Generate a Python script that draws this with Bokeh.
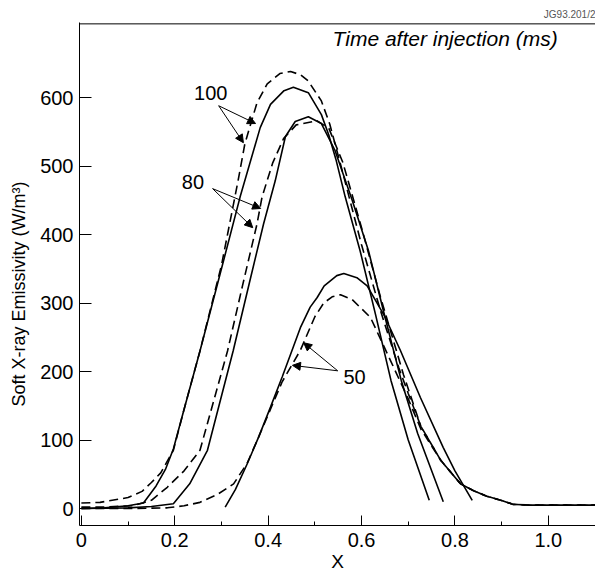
from bokeh.plotting import figure
from bokeh.models import FixedTicker, Label, Arrow, NormalHead, Span, Range1d, Title
from bokeh.embed import file_html
from bokeh.resources import INLINE

# ---- data ----
x100_solid = [0.0, 0.05, 0.10, 0.133, 0.16, 0.18, 0.197, 0.22, 0.254, 0.30, 0.34, 0.383, 0.405, 0.434, 0.454, 0.486, 0.514, 0.53, 0.545, 0.565, 0.597, 0.63, 0.663, 0.70, 0.745]
y100_solid = [0, 1, 4, 8, 33, 57, 87, 145, 230, 350, 455, 556, 590, 610, 615, 607, 575, 545, 510, 455, 376, 283, 187, 100, 12]

x100_dash = [0.0, 0.04, 0.10, 0.13, 0.15, 0.17, 0.197, 0.22, 0.254, 0.30, 0.336, 0.35, 0.362, 0.376, 0.398, 0.425, 0.448, 0.47, 0.486, 0.514, 0.532, 0.561, 0.60, 0.64, 0.68, 0.70, 0.727, 0.77, 0.812, 0.84, 0.868, 0.898, 0.925, 0.96, 1.0, 1.101]
y100_dash = [8, 9, 16, 25, 38, 52, 85, 145, 230, 355, 480, 532, 560, 592, 620, 635, 638, 633, 624, 595, 561, 487, 385, 290, 205, 168, 120, 70, 36, 26, 18, 12, 6, 5, 5, 5]

x80_solid = [0.0, 0.10, 0.15, 0.197, 0.232, 0.27, 0.325, 0.36, 0.39, 0.415, 0.437, 0.458, 0.486, 0.514, 0.543, 0.58, 0.615, 0.65, 0.685, 0.72, 0.775]
y80_solid = [0, 1, 3, 7, 36, 85, 230, 330, 415, 478, 543, 565, 572, 562, 523, 450, 376, 280, 187, 110, 10]

x80_dash = [0.0, 0.04, 0.111, 0.15, 0.184, 0.22, 0.254, 0.313, 0.345, 0.376, 0.387, 0.41, 0.433, 0.46, 0.505, 0.53, 0.56, 0.60, 0.64, 0.69, 0.727, 0.77, 0.812, 0.84, 0.868, 0.898, 0.925, 0.96, 1.0, 1.101]
y80_dash = [2, 2, 4, 12, 31, 55, 85, 230, 325, 415, 455, 505, 540, 560, 566, 555, 505, 410, 310, 195, 120, 70, 36, 26, 18, 12, 6, 5, 5, 5]

x50_solid = [0.308, 0.33, 0.355, 0.38, 0.405, 0.43, 0.455, 0.469, 0.49, 0.505, 0.52, 0.547, 0.562, 0.59, 0.612, 0.65, 0.683, 0.726, 0.775, 0.80, 0.837]
y50_solid = [2, 28, 65, 105, 148, 192, 238, 264, 294, 308, 325, 340, 343, 337, 325, 280, 231, 162, 89, 55, 12]

x50_dash = [0.0, 0.10, 0.184, 0.22, 0.254, 0.29, 0.326, 0.355, 0.38, 0.405, 0.43, 0.469, 0.50, 0.519, 0.537, 0.555, 0.58, 0.619, 0.662, 0.70, 0.727, 0.77, 0.812, 0.84, 0.868, 0.898, 0.925, 0.96, 1.0, 1.101]
y50_dash = [0, 0, 1, 4, 9, 20, 36, 66, 105, 145, 185, 231, 280, 300, 309, 312, 305, 279, 216, 160, 116, 70, 36, 26, 18, 12, 6, 5, 5, 5]

x_ticks = [0.0, 0.2, 0.4, 0.6, 0.8, 1.0]
x_tick_labels = ["0", "0.2", "0.4", "0.6", "0.8", "1.0"]
x_minor = [0.1, 0.3, 0.5, 0.7, 0.9]
y_ticks = [0, 100, 200, 300, 400, 500, 600]

series_labels = ["100", "80", "50"]
label_pos = [(0.277, 607), (0.239, 477), (0.585, 192)]
arrows = [
    [(0.294, 588, 0.373, 562), (0.294, 588, 0.347, 534)],
    [(0.281, 467, 0.384, 438), (0.281, 467, 0.367, 410)],
    [(0.549, 201, 0.476, 242), (0.549, 201, 0.452, 209)],
]

FONT = "Liberation Sans"

p = figure(width=595, height=578, output_backend="svg", toolbar_location=None,
           x_range=Range1d(-0.004, 1.101), y_range=Range1d(-24.8, 709.5),
           min_border_left=79, min_border_right=0, min_border_top=22, min_border_bottom=53,
           background_fill_color="white", border_fill_color="white")
p.outline_line_color = None
p.xgrid.visible = False
p.ygrid.visible = False

t = Title(text="JG93.201/2", align="right", text_font=FONT, text_font_size="10px",
          text_color="#555555", text_font_style="normal", standoff=5, offset=0)
p.add_layout(t, "above")

LW = 1.6
DASH = "9 5"
p.line(x100_solid, y100_solid, line_color="black", line_width=LW)
p.line(x100_dash, y100_dash, line_color="black", line_width=LW, line_dash=DASH)
p.line(x80_solid, y80_solid, line_color="black", line_width=LW)
p.line(x80_dash, y80_dash, line_color="black", line_width=LW, line_dash=DASH)
p.line(x50_solid, y50_solid, line_color="black", line_width=LW)
p.line(x50_dash, y50_dash, line_color="black", line_width=LW, line_dash=DASH)

# axes
xa = p.xaxis[0]
xa.ticker = FixedTicker(ticks=x_ticks, minor_ticks=x_minor)
xa.major_label_overrides = {tk: s for tk, s in zip(x_ticks, x_tick_labels)}
xa.major_tick_in = 10
xa.major_tick_out = 0
xa.minor_tick_in = 4
xa.minor_tick_out = 0
xa.major_label_standoff = 7
xa.major_label_text_font = FONT
xa.major_label_text_font_size = "20px"
xa.major_label_text_color = "black"
xa.axis_line_color = "black"
xa.major_tick_line_color = "black"
xa.minor_tick_line_color = "black"
xa.axis_label = "X"
xa.axis_label_text_font = FONT
xa.axis_label_text_font_size = "19px"
xa.axis_label_text_font_style = "normal"
xa.axis_label_text_color = "black"
xa.axis_label_standoff = 1

ya = p.yaxis[0]
ya.ticker = FixedTicker(ticks=y_ticks)
ya.major_tick_in = 12
ya.major_tick_out = 0
ya.minor_tick_line_color = None
ya.major_label_standoff = 6
ya.major_label_text_font = FONT
ya.major_label_text_font_size = "20px"
ya.major_label_text_color = "black"
ya.axis_line_color = "black"
ya.major_tick_line_color = "black"
ya.axis_label = "Soft X-ray Emissivity (W/m\u00b3)" + "\u00a0" * 8
ya.axis_label_text_font = FONT
ya.axis_label_text_font_size = "18px"
ya.axis_label_text_font_style = "normal"
ya.axis_label_text_color = "black"
ya.axis_label_standoff = 8

# top frame line
p.add_layout(Span(location=707.5, dimension="width", line_color="black", line_width=1))

# texts
p.add_layout(Label(x=0.538, y=686, text="Time after injection (ms)", text_font=FONT,
                   text_font_size="21px", text_font_style="italic", text_color="black",
                   text_align="left", text_baseline="middle"))

for lbl, (lx, ly), arr in zip(series_labels, label_pos, arrows):
    p.add_layout(Label(x=lx, y=ly, text=lbl, text_font=FONT, text_font_size="20px",
                       text_color="black", text_align="center", text_baseline="middle"))
    for (xs, ys, xe, ye) in arr:
        p.add_layout(Arrow(end=NormalHead(size=8, fill_color="black", line_color="black"),
                           x_start=xs, y_start=ys, x_end=xe, y_end=ye,
                           line_color="black", line_width=1))

open("out.html", "w").write(file_html(p, INLINE))
